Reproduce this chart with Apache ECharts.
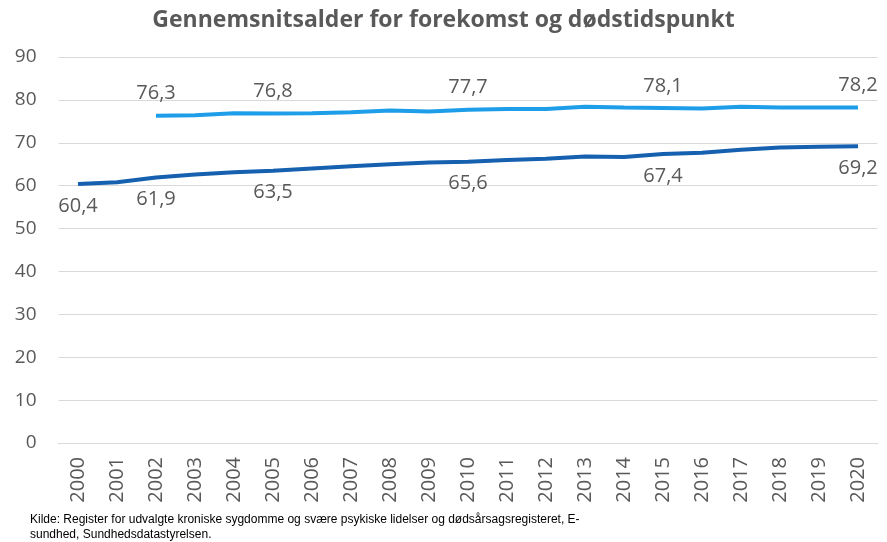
<!DOCTYPE html>
<html><head><meta charset="utf-8">
<script src="https://cdn.jsdelivr.net/npm/echarts@6/dist/echarts.min.js"></script>
<style>html,body{margin:0;padding:0;background:#fff}#c{width:887px;height:542px}</style>
</head><body><div id="c"></div>
<script>
const years = ['2000','2001','2002','2003','2004','2005','2006','2007','2008','2009','2010','2011','2012','2013','2014','2015','2016','2017','2018','2019','2020'];
const forekomst = [60.4,60.8,61.9,62.6,63.1,63.5,64.0,64.5,65.0,65.4,65.6,66.0,66.3,66.8,66.7,67.4,67.7,68.4,68.9,69.1,69.2];
const doedstidspunkt = [null,null,76.3,76.4,76.9,76.8,76.9,77.1,77.5,77.3,77.7,77.9,77.9,78.4,78.2,78.1,78.0,78.4,78.2,78.2,78.2];
const labeledForekomst = ['2000','2002','2005','2010','2015','2020'];
const labeledDoed = ['2002','2005','2010','2015','2020'];
const yTicks = {min:0, max:90, interval:10};
const title = 'Gennemsnitsalder for forekomst og dødstidspunkt';
const source = ['Kilde: Register for udvalgte kroniske sygdomme og svære psykiske lidelser og dødsårsagsregisteret, E-','sundhed, Sundhedsdatastyrelsen.'];

const fmt = v => v.toFixed(1).replace('.', ',');
const chart = echarts.init(document.getElementById('c'));
chart.setOption({
  animation:false,
  title:{text:title,left:'center',top:4,textStyle:{fontFamily:'Open Sans',fontWeight:'bold',fontSize:23,color:'#595959'}},
  grid:{left:58.5,right:9.5,top:57,bottom:99},
  xAxis:{type:'category',data:years,boundaryGap:true,
    axisLine:{show:true,lineStyle:{color:'#d9d9d9',width:1}},axisTick:{show:false},
    axisLabel:{rotate:90,margin:14,fontSize:20,color:'#595959',fontFamily:'Open Sans',interval:0}},
  yAxis:{type:'value',min:yTicks.min,max:yTicks.max,interval:yTicks.interval,
    axisLine:{show:false},axisTick:{show:false},
    splitLine:{lineStyle:{color:'#d9d9d9',width:1}},
    axisLabel:{margin:22,fontSize:19,color:'#595959',fontFamily:'Open Sans'}},
  series:[
    {name:'Forekomst',type:'line',data:forekomst,symbol:'circle',symbolSize:0,showSymbol:true,
     lineStyle:{color:'#1660b0',width:4},itemStyle:{color:'#1660b0'},
     label:{show:true,position:'bottom',distance:12,fontSize:20,color:'#595959',fontFamily:'Open Sans',
       formatter:p=>labeledForekomst.includes(years[p.dataIndex])?fmt(p.value):''}},
    {name:'Dødstidspunkt',type:'line',data:doedstidspunkt,symbol:'circle',symbolSize:0,showSymbol:true,
     lineStyle:{color:'#1e9ee8',width:4},itemStyle:{color:'#1e9ee8'},
     label:{show:true,position:'top',distance:12,fontSize:20,color:'#595959',fontFamily:'Open Sans',
       formatter:p=>labeledDoed.includes(years[p.dataIndex])&&p.value!=null?fmt(p.value):''}}
  ],
  graphic:[
    {type:'text',left:30,top:512,style:{text:source.join('\n'),fontSize:12,lineHeight:15,fill:'#000',fontFamily:'Liberation Sans Narrow, Liberation Sans'}}
  ]
});
</script></body></html>
